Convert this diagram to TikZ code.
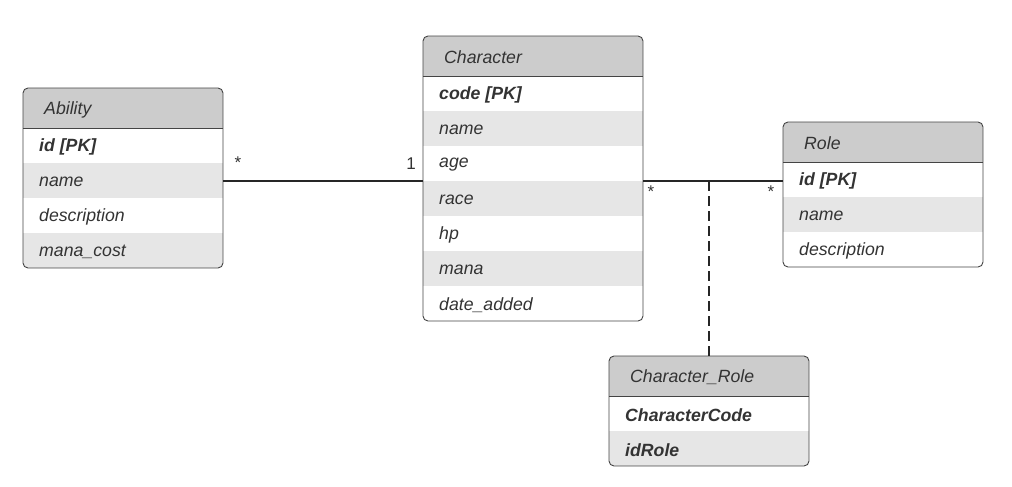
\documentclass[tikz,border=0pt]{standalone}
\usepackage{fontspec}
\setmainfont{Liberation Sans}
\definecolor{hdrgrey}{HTML}{CCCCCC}
\definecolor{altgrey}{HTML}{E6E6E6}
\definecolor{bordc}{HTML}{444444}
\definecolor{txtc}{HTML}{333333}
\tikzset{
  tbl/.style={inner sep=0pt, outer sep=0pt, anchor=north west, draw=none},
  hdrtxt/.style={anchor=west, inner sep=0pt, yshift=-1.5pt, text=txtc, font=\fontsize{17.7pt}{20pt}\selectfont\itshape},
  rowtxt/.style={anchor=west, inner sep=0pt, yshift=-1.5pt, text=txtc, font=\fontsize{17.7pt}{20pt}\selectfont\itshape},
  keytxt/.style={anchor=west, inner sep=0pt, yshift=-1.5pt, text=txtc, font=\fontsize{17.7pt}{20pt}\selectfont\bfseries\itshape},
  multxt/.style={inner sep=0pt, text=txtc, font=\fontsize{17pt}{18pt}\selectfont},
  conn/.style={draw=black!85, line width=1.8pt},
  dconn/.style={draw=black!85, line width=1.8pt, dash pattern=on 10pt off 5pt},
}
% #1 node name, #2 x, #3 y(top, positive down), #4 width, #5 number of rows, #6 list of grey row indices
\newcommand\ertable[6]{%
  \pgfmathsetmacro\erh{40+35*#5}%
  \node[tbl, minimum width=#4pt, minimum height=\erh pt] (#1) at (#2pt,-#3pt) {};
  \begin{scope}
    \clip[rounded corners=5pt] (#1.north west) rectangle (#1.south east);
    \fill[white] (#1.north west) rectangle (#1.south east);
    \fill[hdrgrey] (#1.north west) rectangle ([yshift=-40pt]#1.north east);
    \foreach \r in {#6} {
      \fill[altgrey] ([yshift=-40pt-35pt*(\r-1)]#1.north west) rectangle ([yshift=-40pt-35pt*\r]#1.north east);
    }
  \end{scope}
  \draw[bordc, line width=0.9pt, rounded corners=5pt] (#1.north west) rectangle (#1.south east);
  \draw[bordc, line width=0.9pt] ([yshift=-40pt]#1.north west) -- ([yshift=-40pt]#1.north east);
}
\begin{document}
\begin{tikzpicture}[x=1pt,y=1pt]
\useasboundingbox (0,0) rectangle (1012,-487);

% Ability
\ertable{ability}{23}{88}{200}{4}{2,4}
\node[hdrtxt] (abilityT) at (44,-108) {Ability};
\node[keytxt] (abilityR1) at (39,-145.5) {id [PK]};
\node[rowtxt] (abilityR2) at (39,-180.5) {name};
\node[rowtxt] (abilityR3) at (39,-215.5) {description};
\node[rowtxt] (abilityR4) at (39,-250.5) {mana\_cost};

% Character
\ertable{character}{423}{36}{220}{7}{2,4,6}
\node[hdrtxt] (characterT) at (444,-56) {Character};
\node[keytxt] (characterR1) at (439,-93.5) {code [PK]};
\node[rowtxt] (characterR2) at (439,-128.5) {name};
\node[rowtxt] (characterR3) at (439,-163.5) {age};
\node[rowtxt] (characterR4) at (439,-198.5) {race};
\node[rowtxt] (characterR5) at (439,-233.5) {hp};
\node[rowtxt] (characterR6) at (439,-268.5) {mana};
\node[rowtxt] (characterR7) at (439,-303.5) {date\_added};

% Role
\ertable{role}{783}{122}{200}{3}{2}
\node[hdrtxt] (roleT) at (804,-142) {Role};
\node[keytxt] (roleR1) at (799,-179.5) {id [PK]};
\node[rowtxt] (roleR2) at (799,-214.5) {name};
\node[rowtxt] (roleR3) at (799,-249.5) {description};

% Character_Role
\ertable{charrole}{609}{356}{200}{2}{2}
\node[hdrtxt] (charroleT) at (630,-376) {Character\_Role};
\node[keytxt] (charroleR1) at (625,-413.5) {CharacterCode};
\node[keytxt] (charroleR2) at (625,-448.5) {idRole};

% connectors
\coordinate (lineY) at (0,-181);
\draw[conn] (ability.east |- lineY) -- (character.west |- lineY);
\draw[conn] (character.east |- lineY) -- (role.west |- lineY);
\draw[dconn] (charrole.north |- lineY) -- (charrole.north);

% multiplicities
\node[multxt] (m1) at (238,-163) {*};
\node[multxt] (m2) at (411,-164) {1};
\node[multxt] (m3) at (651,-192) {*};
\node[multxt] (m4) at (771,-192) {*};
\end{tikzpicture}
\end{document}
